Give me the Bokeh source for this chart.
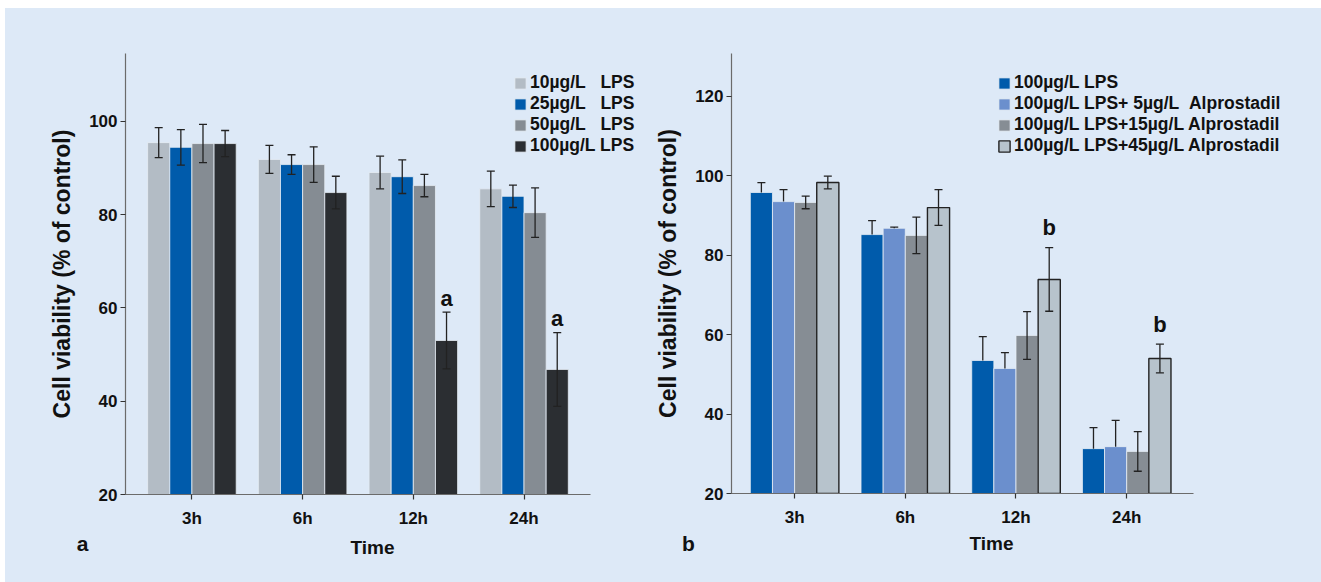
from bokeh.plotting import figure
from bokeh.models import (ColumnDataSource, Whisker, TeeHead, FixedTicker, Range1d,
                          Legend, LegendItem)
from bokeh.layouts import row, column
from bokeh.embed import file_html
from bokeh.resources import INLINE
from bokeh.core.properties import value

# ---------------- data ----------------
times = ["3h", "6h", "12h", "24h"]
x_title = "Time"
y_title = "Cell viability (% of control)"
panel_tags = ["a", "b"]

# panel a
a_labels = ["10µg/L\u00a0\u00a0\u00a0LPS", "25µg/L\u00a0\u00a0\u00a0LPS",
            "50µg/L\u00a0\u00a0\u00a0LPS", "100µg/L LPS"]
a_10 = [95.4, 91.8, 89.0, 85.5]
a_10_err = [3.2, 3.0, 3.5, 3.8]
a_25 = [94.4, 90.7, 88.1, 83.9]
a_25_err = [3.8, 2.1, 3.6, 2.4]
a_50 = [95.2, 90.7, 86.2, 80.4]
a_50_err = [4.1, 3.8, 2.4, 5.3]
a_100 = [95.2, 84.7, 53.0, 46.8]
a_100_err = [2.8, 3.5, 6.1, 7.9]
a_sig = ["", "", "a", "a"]          # marks over the 100µg/L LPS bars

# panel b
b_labels = ["100µg/L LPS", "100µg/L LPS+ 5µg/L\u00a0\u00a0Alprostadil",
            "100µg/L LPS+15µg/L Alprostadil", "100µg/L LPS+45µg/L Alprostadil"]
b_lps = [95.8, 85.2, 53.5, 31.3]
b_lps_err = [2.5, 3.5, 6.0, 5.3]
b_5 = [93.5, 86.8, 51.5, 31.8]
b_5_err = [3.0, 0.3, 4.0, 6.6]
b_15 = [93.3, 85.0, 59.8, 30.6]
b_15_err = [1.6, 4.6, 6.0, 5.0]
b_45 = [98.3, 92.0, 73.9, 54.0]
b_45_err = [1.6, 4.5, 8.0, 3.6]
b_sig = ["", "", "b", "b"]          # marks over the +45µg/L Alprostadil bars

a_ticks = [20, 40, 60, 80, 100]
b_ticks = [20, 40, 60, 80, 100, 120]

# ---------------- style / layout ----------------
BG = "#dde9f7"
FONT = "Liberation Sans"
TXT = "#111111"
a_colors = ["#b3bcc5", "#005bab", "#858c93", "#2b2e32"]
b_colors = ["#005bab", "#6b8fcd", "#868d94", "#b7c3cc"]
offsets = [-0.3, -0.1, 0.1, 0.3]
BW = 0.2
PX_PER_UNIT = 110.7
TOP_H = 524          # height of the chart figures
STRIP_H = 50         # height of the strip with the axis titles / panel tags
W_A, W_B = 645, 671
LEFT_A, LEFT_B = 120, 81


def style(p, yticks, x0, x1):
    p.background_fill_color = BG
    p.border_fill_color = BG
    p.outline_line_color = None
    p.xgrid.grid_line_color = None
    p.ygrid.grid_line_color = None
    p.xaxis.ticker = FixedTicker(ticks=list(range(len(times))))
    p.xaxis.major_label_overrides = {i: t for i, t in enumerate(times)}
    p.xaxis.bounds = (x0, x1)
    p.yaxis.ticker = FixedTicker(ticks=yticks)
    for ax in (p.xaxis[0], p.yaxis[0]):
        ax.axis_line_color = "#6b6b6b"
        ax.axis_line_width = 1.2
        ax.major_tick_line_color = "#333333"
        ax.major_tick_line_width = 1.2
        ax.major_tick_out = 5
        ax.major_tick_in = 0
        ax.minor_tick_line_color = None
        ax.major_label_text_font = FONT
        ax.major_label_text_font_style = "bold"
        ax.major_label_text_font_size = "17px"
        ax.major_label_text_color = TXT
        ax.axis_label_text_font = FONT
        ax.axis_label_text_font_style = "bold"
        ax.axis_label_text_color = TXT
    p.yaxis.axis_label = y_title
    p.yaxis.axis_label_text_font_size = "23px"
    p.xaxis.major_label_standoff = 9
    p.yaxis.major_label_standoff = 3
    p.yaxis.axis_label_standoff = 11


def panel(series, errs, colors, labels, sig, sig_idx, sig_gap, yrange, yticks,
          x0, x1, frame_h, left, width, legend_xy, outlined, upper_only):
    frame_w = width - left - (5 if left > 100 else 0)
    x_end = x0 + frame_w / PX_PER_UNIT
    p = figure(width=width, height=TOP_H, x_range=Range1d(x0, x_end),
               y_range=Range1d(*yrange), output_backend="svg",
               toolbar_location=None, min_border_left=left,
               min_border_right=width - left - frame_w, min_border_top=45,
               min_border_bottom=TOP_H - 45 - frame_h)
    p.frame_width = frame_w
    p.frame_height = frame_h
    style(p, yticks, x0, x1)
    items = []
    for k, (vals, err, col, lab) in enumerate(zip(series, errs, colors, labels)):
        xs = [i + offsets[k] for i in range(len(times))]
        src = ColumnDataSource(dict(
            x=xs, top=vals,
            upper=[v + e for v, e in zip(vals, err)],
            lower=[v if upper_only[k] else v - e for v, e in zip(vals, err)]))
        lc = "#222222" if outlined[k] else "#e6edf5"
        lw = 1.4 if outlined[k] else 0.8
        r = p.vbar(x="x", top="top", bottom=yrange[0], width=BW, source=src,
                   fill_color=col, line_color=lc, line_width=lw)
        items.append(LegendItem(label=lab, renderers=[r]))
        w = Whisker(base="x", upper="upper", lower="lower", source=src,
                    line_color="#222222", line_width=1.3, level="overlay",
                    upper_head=TeeHead(size=8, line_color="#222222", line_width=1.3),
                    lower_head=TeeHead(size=8, line_color="#222222", line_width=1.3))
        if upper_only[k]:
            w.lower_head = None
        p.add_layout(w)
    # significance letters
    vals, err = series[sig_idx], errs[sig_idx]
    sx, sy, st = [], [], []
    for i, s in enumerate(sig):
        if s:
            sx.append(i + offsets[sig_idx])
            sy.append(vals[i] + err[i] + sig_gap)
            st.append(s)
    p.text(x=sx, y=sy, text=st, text_align="center", text_baseline="alphabetic",
           text_font=value(FONT), text_font_style="bold", text_font_size="22px",
           text_color=TXT)
    leg = Legend(items=items, location=legend_xy, orientation="vertical",
                 background_fill_alpha=0, border_line_color=None,
                 padding=0, margin=0, spacing=0, glyph_width=14, glyph_height=14,
                 label_height=14, label_standoff=3,
                 label_text_font=FONT, label_text_font_style="bold",
                 label_text_font_size="17.5px", label_text_color=TXT)
    p.add_layout(leg, "center")
    return p


pa = panel([a_10, a_25, a_50, a_100], [a_10_err, a_25_err, a_50_err, a_100_err],
           a_colors, a_labels, a_sig, 3, 3.0, (20, 114.5), a_ticks, -0.6, 3.6,
           441, LEFT_A, W_A, (388, 338), [False] * 4, [False] * 4)
pb = panel([b_lps, b_5, b_15, b_45], [b_lps_err, b_5_err, b_15_err, b_45_err],
           b_colors, b_labels, b_sig, 3, 5.0, (20, 130.8), b_ticks, -0.57, 3.6,
           440, LEFT_B, W_B, (266, 337), [False, False, False, True],
           [True, True, False, False])

# bottom strip: x-axis titles ("Time") and panel tags ("a", "b")
strip = figure(width=W_A + W_B, height=STRIP_H, x_range=Range1d(0, W_A + W_B),
               y_range=Range1d(STRIP_H, 0), output_backend="svg",
               toolbar_location=None, min_border=0)
strip.axis.visible = False
strip.grid.visible = False
strip.outline_line_color = None
strip.background_fill_color = BG
strip.border_fill_color = BG
frame_left = [LEFT_A, W_A + LEFT_B]
title_dx = [247, 260]
title_y = [15, 11]
strip.text(x=[fl + dx for fl, dx in zip(frame_left, title_dx)], y=title_y,
           text=[x_title, x_title], text_align="center", text_baseline="middle",
           text_font=value(FONT), text_font_style="bold", text_font_size="19px",
           text_color=TXT)
strip.text(x=[fl - 43 for fl in frame_left], y=[11, 11], text=panel_tags,
           text_align="center", text_baseline="middle",
           text_font=value(FONT), text_font_style="bold", text_font_size="21px",
           text_color=TXT)

layout = column(row(pa, pb, spacing=0), strip, spacing=0,
                margin=(8, 0, 0, 5), styles={"background-color": BG})
open("out.html", "w").write(file_html(layout, INLINE))
